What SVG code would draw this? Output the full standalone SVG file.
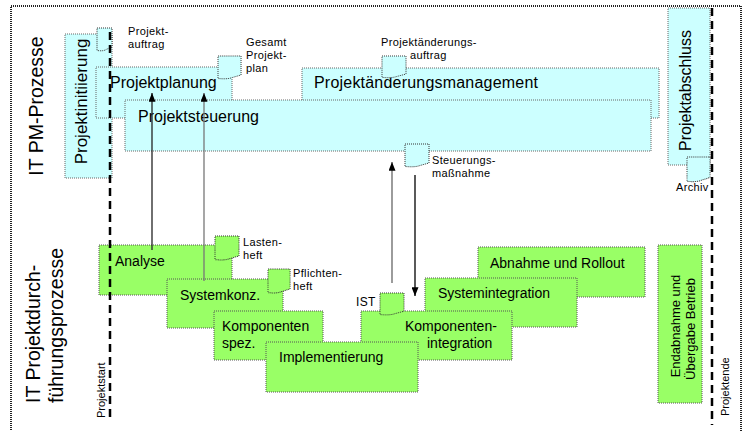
<svg xmlns="http://www.w3.org/2000/svg" width="745" height="431" viewBox="0 0 745 431">
<style>
  .cy{fill:#CCFFFF;stroke:#666;stroke-width:1;stroke-dasharray:1 1}
  .gr{fill:#99FF66;stroke:#555;stroke-width:1;stroke-dasharray:1 1}
  .dc{fill:#CCFFFF;stroke:#333;stroke-width:1;stroke-dasharray:1 1}
  .dg{fill:#99FF66;stroke:#333;stroke-width:1;stroke-dasharray:1 1}
  .t16{font-family:"Liberation Sans",Arial,sans-serif;font-size:16px;fill:#000}
  .t14{font-family:"Liberation Sans",Arial,sans-serif;font-size:14px;fill:#000}
  .t12{font-family:"Liberation Sans",Arial,sans-serif;font-size:11px;letter-spacing:0.35px;fill:#000}
  .t11{font-family:"Liberation Sans",Arial,sans-serif;font-size:11px;fill:#000}
  .t20{font-family:"Liberation Sans",Arial,sans-serif;font-size:19.5px;fill:#000}
  .ms{stroke:#000;stroke-width:2.5;stroke-dasharray:8 5;fill:none}
  .ar{fill:none;stroke-width:1.3}
</style>
<defs>
  <marker id="ah" viewBox="0 0 10 8" refX="10" refY="4" markerWidth="9" markerHeight="7" markerUnits="userSpaceOnUse" orient="auto">
    <path d="M0,0 L10,4 L0,8 Z" fill="#000"/>
  </marker>
  <path id="doc" d="M0,0 H24 V19 L15,21.5 C11,23 6,23 0,22.5 Z"/>
</defs>

<rect x="11" y="6" width="730" height="440" fill="none" stroke="#222" stroke-width="2" stroke-dasharray="1 1"/>

<!-- lane labels -->
<text class="t20" transform="translate(43,106) rotate(-90)" text-anchor="middle">IT PM-Prozesse</text>
<text class="t20" transform="translate(40,403) rotate(-90)">IT Projektdurch-</text>
<text class="t20" transform="translate(63,403) rotate(-90)">führungsprozesse</text>

<!-- PM processes -->
<g id="projektinitiierung">
  <rect class="cy" x="65" y="34" width="47" height="144"/>
  <text class="t16" style="font-size:17px" transform="translate(87,101.5) rotate(-90)" text-anchor="middle">Projektinitiierung</text>
</g>
<g id="projektplanung">
  <rect class="cy" x="96" y="67" width="136" height="51"/>
  <text class="t16" x="110" y="88">Projektplanung</text>
</g>
<g id="projektaenderungsmanagement">
  <rect class="cy" x="302" y="68" width="357" height="50"/>
  <text class="t16" x="314" y="88" textLength="224">Projektänderungsmanagement</text>
</g>
<g id="projektsteuerung">
  <rect class="cy" x="125" y="100" width="526" height="51"/>
  <text class="t16" x="138" y="122">Projektsteuerung</text>
</g>
<g id="projektabschluss">
  <rect class="cy" x="668" y="8" width="42" height="157"/>
  <text class="t16" transform="translate(691,90.5) rotate(-90)" text-anchor="middle">Projektabschluss</text>
</g>

<!-- documents (top) -->
<g id="doc-projektauftrag">
  <path class="dc" d="M97,28 H112 V47 L106,49.5 C104,51 101,51 97,50.5 Z"/>
  <text class="t12" x="128" y="35">Projekt-</text>
  <text class="t12" x="128" y="48">auftrag</text>
</g>
<g id="doc-gesamtprojektplan">
  <use href="#doc" class="dc" transform="translate(218,56) scale(0.96,1)"/>
  <text class="t12" x="246" y="46">Gesamt</text>
  <text class="t12" x="246" y="59">Projekt-</text>
  <text class="t12" x="246" y="72">plan</text>
</g>
<g id="doc-projektaenderungsauftrag">
  <use href="#doc" class="dc" transform="translate(382,56) scale(1,0.95)"/>
  <text class="t12" x="381" y="45.5">Projektänderungs-</text>
  <text class="t12" x="410" y="58.5">auftrag</text>
</g>
<g id="doc-steuerungsmassnahme">
  <use href="#doc" class="dc" transform="translate(405,144)"/>
  <text class="t12" x="432" y="163.5">Steuerungs-</text>
  <text class="t12" x="432" y="176.5">maßnahme</text>
</g>
<g id="doc-archiv">
  <use href="#doc" class="dc" transform="translate(687,157) scale(0.96,1.08)"/>
  <text class="t12" x="676" y="191">Archiv</text>
</g>

<!-- project execution processes -->
<g id="analyse">
  <rect class="gr" x="99" y="245" width="133" height="50"/>
  <text class="t14" x="115" y="266">Analyse</text>
</g>
<g id="systemkonz">
  <rect class="gr" x="167" y="279" width="116" height="49"/>
  <text class="t14" x="180" y="300">Systemkonz.</text>
</g>
<g id="komponentenspez">
  <rect class="gr" x="214" y="311" width="109" height="49"/>
  <text class="t14" x="222" y="331">Komponenten</text>
  <text class="t14" x="222" y="348">spez.</text>
</g>
<g id="abnahme-rollout">
  <rect class="gr" x="478" y="247" width="167" height="50"/>
  <text class="t14" x="490" y="268">Abnahme und Rollout</text>
</g>
<g id="systemintegration">
  <rect class="gr" x="425" y="278" width="152" height="49"/>
  <text class="t14" x="438" y="298">Systemintegration</text>
</g>
<g id="komponentenintegration">
  <rect class="gr" x="361" y="311" width="151" height="49"/>
  <text class="t14" x="405" y="331">Komponenten-</text>
  <text class="t14" x="427" y="348">integration</text>
</g>
<g id="implementierung">
  <rect class="gr" x="266" y="342" width="152" height="50"/>
  <text class="t14" x="279" y="362">Implementierung</text>
</g>
<g id="endabnahme">
  <rect class="gr" x="658" y="245" width="44" height="158"/>
  <text class="t14" style="font-size:13px" transform="translate(680,326) rotate(-90)" text-anchor="middle">Endabnahme und</text>
  <text class="t14" style="font-size:13px" transform="translate(694.5,329) rotate(-90)" text-anchor="middle">Übergabe Betrieb</text>
</g>

<!-- documents (bottom) -->
<g id="doc-lastenheft">
  <use href="#doc" class="dg" transform="translate(215,236) scale(1,1.05)"/>
  <text class="t12" x="243" y="245.5">Lasten-</text>
  <text class="t12" x="243" y="258.5">heft</text>
</g>
<g id="doc-pflichtenheft">
  <use href="#doc" class="dg" transform="translate(268,269) scale(0.92,1.05)"/>
  <text class="t12" x="293" y="276.5">Pflichten-</text>
  <text class="t12" x="293" y="289.5">heft</text>
</g>
<g id="doc-ist">
  <use href="#doc" class="dg" transform="translate(380,293) scale(1,0.96)"/>
  <text class="t12" style="font-size:12px" x="356" y="306">IST</text>
</g>

<!-- milestones -->
<g id="projektstart">
  <line class="ms" x1="110" y1="32" x2="110" y2="418"/>
  <text class="t11" transform="translate(105,418) rotate(-90)">Projektstart</text>
</g>
<g id="projektende">
  <line class="ms" x1="712" y1="8" x2="712" y2="425"/>
  <text class="t11" transform="translate(729,416) rotate(-90)">Projektende</text>
</g>

<!-- connectors -->
<g id="connectors">
  <line class="ar" stroke="#222" x1="152" y1="250" x2="152" y2="93" marker-end="url(#ah)"/>
  <line class="ar" stroke="#777" x1="204" y1="281" x2="204" y2="93" marker-end="url(#ah)"/>
  <line class="ar" stroke="#666" x1="392" y1="283" x2="392" y2="162" marker-end="url(#ah)"/>
  <line class="ar" stroke="#000" x1="415" y1="175" x2="415" y2="296" marker-end="url(#ah)"/>
</g>
</svg>
